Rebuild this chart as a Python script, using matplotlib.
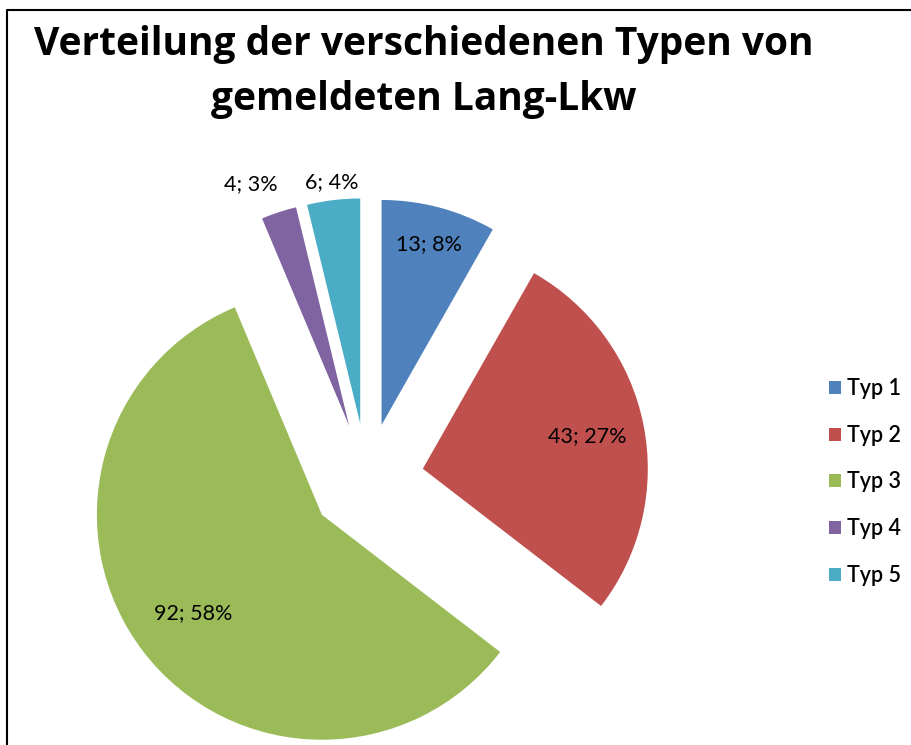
import matplotlib
matplotlib.use("Agg")
import matplotlib.pyplot as plt
from matplotlib.lines import Line2D
import numpy as np

# data
categories = ["Typ 1", "Typ 2", "Typ 3", "Typ 4", "Typ 5"]
counts = [13, 43, 92, 4, 6]
colors = ["#4F81BD", "#C0504D", "#9BBB59", "#8064A2", "#4BACC6"]
# label placement: distance from wedge tip (in radii) and angle nudge (deg)
label_dist = [0.83, 0.745, 0.72, 1.16, 1.08]
label_nudge = [0, 0, 0, 4, 0]

W, H = 912, 745
fig = plt.figure(figsize=(W / 100, H / 100), dpi=100)
ax = fig.add_axes([0, 0, 1, 1])

wedges, _ = ax.pie(counts, colors=colors, startangle=90, counterclock=False,
                   explode=[0.253] * len(counts), radius=1.0,
                   wedgeprops=dict(linewidth=0))

# pie center placed at pixel (367, 480), radius 225 px
cx, cy, r = 367, 480, 225
ax.set_xlim(-cx / r, (W - cx) / r)
ax.set_ylim(-(H - cy) / r, cy / r)
ax.set_aspect("equal")
ax.axis("off")

total = sum(counts)
for w, n, d, nd in zip(wedges, counts, label_dist, label_nudge):
    mid = np.deg2rad((w.theta1 + w.theta2) / 2 + nd)
    x0, y0 = w.center
    pct = round(100 * n / total)
    ax.text(x0 + d * np.cos(mid), y0 + d * np.sin(mid), f"{n}; {pct}%",
            ha="center", va="center", fontsize=15.5, family="Lato")

fig.text(424 / W, 1 - 72 / H, "Verteilung der verschiedenen Typen von\ngemeldeten Lang-Lkw",
         ha="center", va="center", fontsize=28, fontweight="bold", family="Open Sans",
         linespacing=1.55)

ax.legend(wedges, categories, loc="center left", bbox_to_anchor=(829 / W, 1 - 482 / H),
          bbox_transform=fig.transFigure, frameon=False, borderpad=0, borderaxespad=0,
          handlelength=0.55, handleheight=0.55, handletextpad=0.28, labelspacing=1.2,
          prop=dict(family="Lato", size=15.5, weight="semibold"))

# outer chart frame (only left and top edge visible)
fig.add_artist(Line2D([7 / W, 7 / W, 1], [0, 1 - 10 / H, 1 - 10 / H],
                      transform=fig.transFigure, color="black", linewidth=1.5))

fig.savefig("out.png", dpi=100)
